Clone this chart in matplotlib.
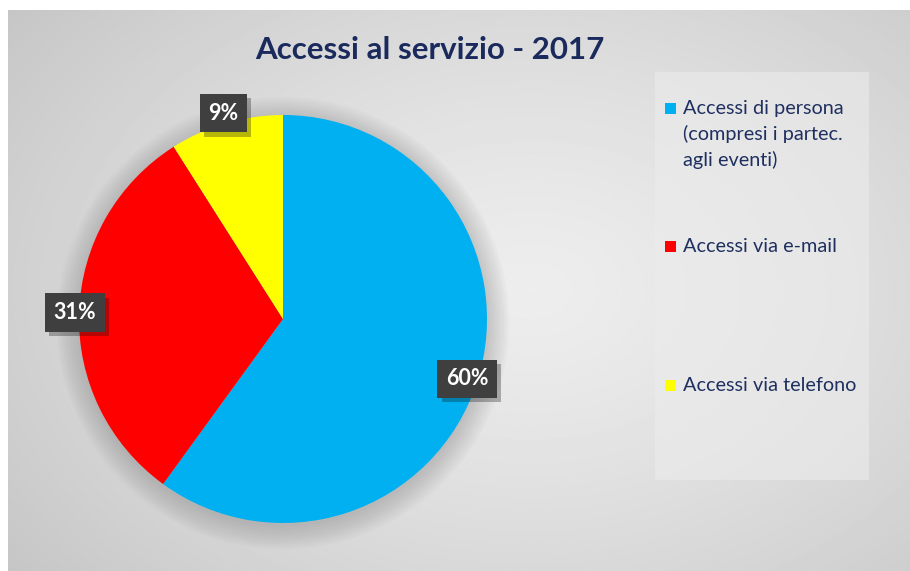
import numpy as np
import matplotlib.pyplot as plt
from matplotlib.patches import Rectangle, Circle
import matplotlib.patheffects as pe

plt.rcParams['font.family'] = ['Lato', 'DejaVu Sans']

# dati del grafico
categorie = ['Accessi di persona\n(compresi i partec.\nagli eventi)',
             'Accessi via e-mail',
             'Accessi via telefono']
valori = [60, 31, 9]
colori = ['#00B0F0', '#FF0000', '#FFFF00']
dist_etichette = [0.95, 1.02, 1.05]

W, H = 910, 571
fig = plt.figure(figsize=(W / 100, H / 100), dpi=100)
fig.patch.set_facecolor('white')

# sfondo grigio con gradiente radiale
bg = fig.add_axes([8 / W, 0, 1 - 8 / W, 1 - 10 / H])
yy, xx = np.mgrid[0:1:300j, 0:1:500j]
r = np.sqrt(((xx - 0.58) / 0.75) ** 2 + ((yy - 0.5) / 0.85) ** 2)
grad = 0.93 - 0.16 * np.clip(r, 0, 1) ** 1.3
bg.imshow(grad, cmap='gray', vmin=0, vmax=1, aspect='auto')
bg.axis('off')

# titolo
fig.text(430 / W, 1 - 50 / H, 'Accessi al servizio - 2017', ha='center', va='center',
         fontsize=22.5, fontweight='bold', color='#1B2A5C')

# torta
ax = fig.add_axes([79 / W, 48 / H, 408 / W, 408 / H])
ax.set_facecolor('none')
# ombra morbida sotto la torta
for k in range(10):
    ax.add_patch(Circle((0, -0.02), 1.0 + 0.012 * k, facecolor='#707070',
                        edgecolor='none', alpha=0.035, zorder=0, clip_on=False))
wedges, _ = ax.pie(valori, colors=colori, startangle=90, counterclock=False,
                   radius=1, wedgeprops=dict(linewidth=0, zorder=2))
ax.set_xlim(-1, 1)
ax.set_ylim(-1, 1)

tot = sum(valori)
for w, v, d in zip(wedges, valori, dist_etichette):
    ang = np.deg2rad((w.theta1 + w.theta2) / 2)
    t = ax.text(d * np.cos(ang), d * np.sin(ang), '{:.0f}%'.format(100 * v / tot),
                ha='center', va='center', fontsize=15.5, fontweight='bold', color='white',
                zorder=5,
                bbox=dict(boxstyle='square,pad=0.4', facecolor='#3F3F3F', edgecolor='none'))
    t.get_bbox_patch().set_path_effects([pe.SimplePatchShadow(offset=(3, -3), alpha=0.3),
                                         pe.Normal()])

# legenda
fig.patches.append(Rectangle((655 / W, 1 - 480 / H), 214 / W, 408 / H,
                             transform=fig.transFigure, facecolor='#ECECEC',
                             edgecolor='none', alpha=0.6))
y_righe = [108, 246, 385]
for lab, col, yp in zip(categorie, colori, y_righe):
    fig.patches.append(Rectangle((665 / W, 1 - (yp + 6) / H), 11 / W, 11 / H,
                                 transform=fig.transFigure, facecolor=col, edgecolor='none'))
    fig.text(683 / W, 1 - (yp - 8) / H, lab, ha='left', va='top', fontsize=14.3,
             color='#1F3060', linespacing=1.52)

fig.savefig('out.png', dpi=100)
